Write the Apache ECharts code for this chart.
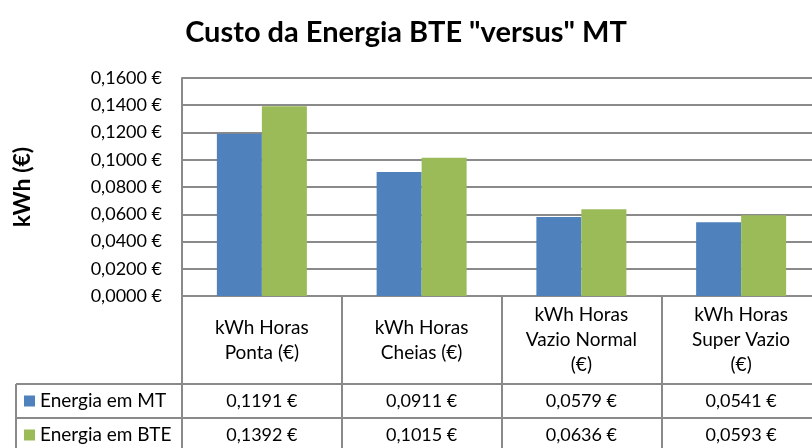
<!DOCTYPE html>
<html>
<head>
<meta charset="utf-8">
<script src="https://cdn.jsdelivr.net/npm/echarts@6/dist/echarts.min.js"></script>
<style>html,body{margin:0;padding:0;background:#fff}#c{width:812px;height:448px}</style>
</head>
<body>
<div id="c"></div>
<script>
const categories = ["kWh Horas\nPonta (€)", "kWh Horas\nCheias (€)", "kWh Horas\nVazio Normal\n(€)", "kWh Horas\nSuper Vazio\n(€)"];
const seriesNames = ["Energia em MT", "Energia em BTE"];
const valuesMT = [0.1191, 0.0911, 0.0579, 0.0541];
const valuesBTE = [0.1392, 0.1015, 0.0636, 0.0593];
const yMin = 0, yMax = 0.16, yStep = 0.02;

const FONT = 'Lato';
const GRID = '#8a8a8a';
const LW = 2;
const fmt = v => v.toFixed(4).replace('.', ',') + ' €';

const chart = echarts.init(document.getElementById('c'), null, {renderer: 'canvas'});
const gridLeft = 182, gridTop = 78, gridW = 639, gridH = 218;
const tableRows = [384, 418];

chart.setOption({
  animation: false,
  backgroundColor: '#fff',
  title: {
    text: 'Custo da Energia BTE "versus" MT',
    left: 'center', top: 13,
    textStyle: {fontFamily: FONT, fontWeight: 'bold', fontSize: 29, color: '#000'}
  },
  legend: {
    orient: 'vertical', left: 24, top: 391, padding: 0,
    itemWidth: 11, itemHeight: 11, itemGap: 14, icon: 'rect',
    textStyle: {fontFamily: FONT, fontSize: 19, color: '#000', lineHeight: 20},
    data: seriesNames
  },
  grid: {left: gridLeft, top: gridTop, width: gridW, height: gridH, containLabel: false, outerBoundsMode: 'none'},
  xAxis: [
    {
      type: 'category', data: categories, position: 'bottom',
      axisLine: {show: true, lineStyle: {color: GRID, width: LW}},
      axisTick: {show: true, length: 160, lineStyle: {color: GRID, width: LW}},
      axisLabel: {interval: 0, margin: 44, verticalAlign: 'middle', fontFamily: FONT, fontSize: 19, lineHeight: 25, color: '#000', align: 'center', hideOverlap: false}
    },
    {
      type: 'category', data: categories, position: 'bottom',
      axisLine: {show: false}, axisTick: {show: false}, splitLine: {show: false},
      axisLabel: {interval: 0, margin: 105, verticalAlign: 'middle', fontFamily: FONT, fontSize: 18, color: '#000',
        formatter: (v, i) => fmt(valuesMT[i])}
    },
    {
      type: 'category', data: categories, position: 'bottom',
      axisLine: {show: false}, axisTick: {show: false}, splitLine: {show: false},
      axisLabel: {interval: 0, margin: 139, verticalAlign: 'middle', fontFamily: FONT, fontSize: 18, color: '#000',
        formatter: (v, i) => fmt(valuesBTE[i])}
    }
  ],
  yAxis: {
    type: 'value', min: yMin, max: yMax, interval: yStep,
    name: 'kWh (€)', nameLocation: 'middle', nameGap: 148, nameRotate: 90,
    nameTextStyle: {fontFamily: FONT, fontWeight: 'bold', fontSize: 23, color: '#000'},
    axisLine: {show: true, lineStyle: {color: GRID, width: LW}},
    axisTick: {show: false},
    splitLine: {show: true, lineStyle: {color: GRID, width: LW}},
    axisLabel: {margin: 20, fontFamily: FONT, fontSize: 18, color: '#000', formatter: v => fmt(v)}
  },
  series: [
    {name: seriesNames[0], type: 'bar', data: valuesMT, barWidth: 45, barGap: '0%', itemStyle: {color: '#4F81BD'}},
    {name: seriesNames[1], type: 'bar', data: valuesBTE, barWidth: 45, barGap: '0%', itemStyle: {color: '#9BBB59'}}
  ],
  graphic: [
    {type: 'line', shape: {x1: 16, y1: tableRows[0], x2: 821, y2: tableRows[0]}, style: {stroke: GRID, lineWidth: LW}},
    {type: 'line', shape: {x1: 16, y1: tableRows[1], x2: 821, y2: tableRows[1]}, style: {stroke: GRID, lineWidth: LW}},
    {type: 'line', shape: {x1: 16, y1: tableRows[0], x2: 16, y2: 448}, style: {stroke: GRID, lineWidth: LW}}
  ]
});
</script>
</body>
</html>
